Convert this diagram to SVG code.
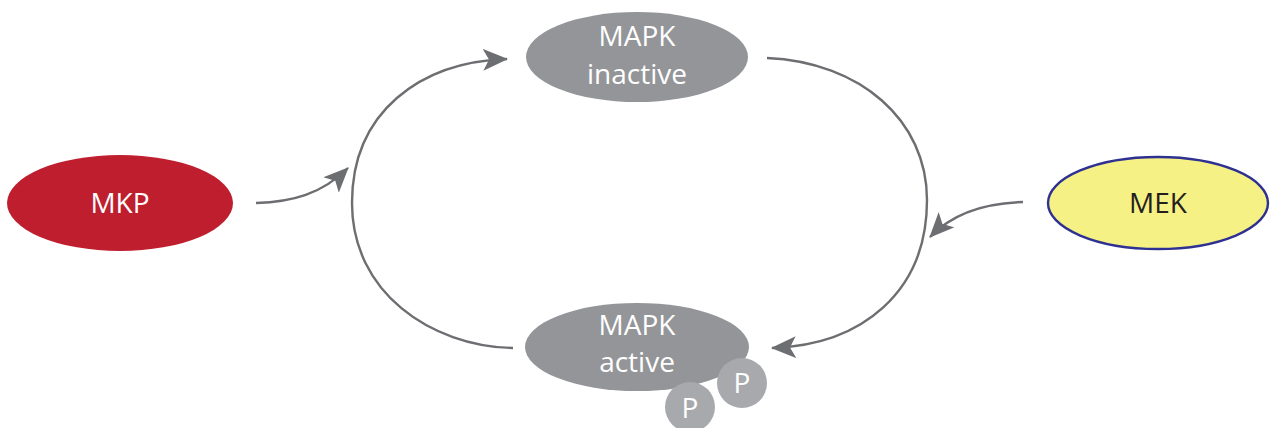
<svg xmlns="http://www.w3.org/2000/svg" width="1270" height="428" viewBox="0 0 1270 428">
<defs>
<style>
.lbl{font-family:"Open Sans","Noto Sans","Liberation Sans",sans-serif;font-size:28px;text-anchor:middle;fill:#ffffff}
.conn{fill:none;stroke:#6d6e71;stroke-width:2.4;marker-end:url(#ah)}
.mapk{fill:#939598}
.p{fill:#a7a9ac}
</style>
<marker id="ah" markerUnits="userSpaceOnUse" markerWidth="26" markerHeight="22" refX="24" refY="11" orient="auto" viewBox="0 0 26 22">
<path d="M0,0 L25,11 L0,22 L6,11 Z" fill="#6d6e71"/>
</marker>
</defs>
<rect width="1270" height="428" fill="#ffffff"/>
<g id="connectors">
<path class="conn" d="M513 348 C430 346 352 292 352 203 C352 112 420 62 507 59"/>
<path class="conn" d="M767 58 C860 62 927 120 927 200 C927 292 862 345 772 348"/>
<path class="conn" d="M256 203 C292 202 322 194 348 168"/>
<path class="conn" d="M1023 202 C985 203 953 213 930 237"/>
</g>
<g id="mapk-inactive">
<ellipse class="mapk" cx="637" cy="57" rx="111" ry="45"/>
<text class="lbl" x="637" y="46">MAPK</text>
<text class="lbl" x="637" y="84">inactive</text>
</g>
<g id="mapk-active">
<ellipse class="mapk" cx="637" cy="347" rx="112" ry="44"/>
<text class="lbl" x="637" y="335">MAPK</text>
<text class="lbl" x="637" y="372">active</text>
</g>
<g id="p1">
<circle class="p" cx="742" cy="383" r="25"/>
<text class="lbl" x="742" y="393">P</text>
</g>
<g id="p2">
<circle class="p" cx="690" cy="407" r="25"/>
<text class="lbl" x="690" y="418">P</text>
</g>
<g id="mkp">
<ellipse cx="120" cy="203" rx="113" ry="48" fill="#be1e2d"/>
<text class="lbl" x="120" y="213">MKP</text>
</g>
<g id="mek">
<ellipse cx="1158" cy="203" rx="110" ry="46" fill="#f6f185" stroke="#2e3192" stroke-width="2.4"/>
<text class="lbl" x="1158" y="213" style="fill:#231f20">MEK</text>
</g>
</svg>
